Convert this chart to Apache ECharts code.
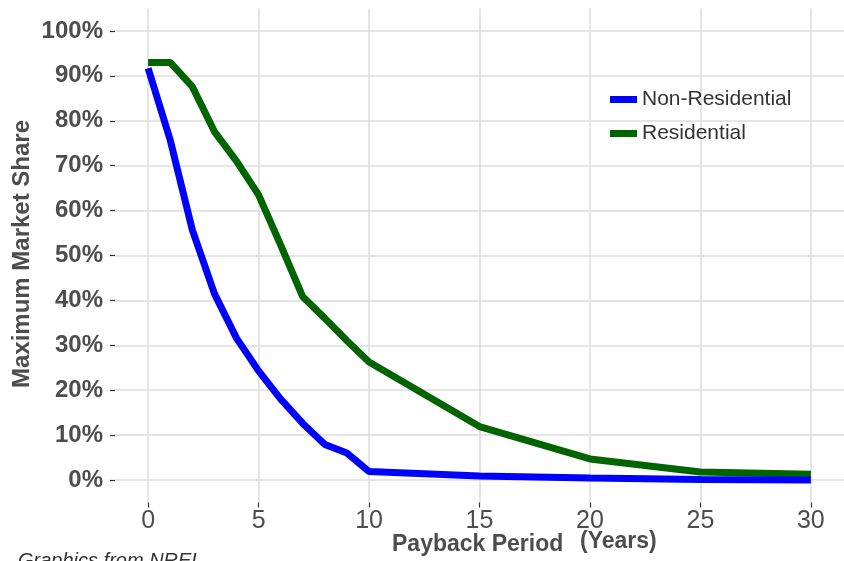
<!DOCTYPE html>
<html>
<head>
<meta charset="utf-8">
<script src="https://cdn.jsdelivr.net/npm/echarts@6/dist/echarts.min.js"></script>
<style>
html,body{margin:0;padding:0;background:#fff;}
#chart{width:844px;height:561px;}
</style>
</head>
<body>
<div id="chart"></div>
<script>
const years = [0, 1, 2, 3, 4, 5, 6, 7, 8, 9, 10, 15, 20, 25, 30];
const nonResidential = [91.7, 75.7, 55.7, 41.5, 31.6, 24.3, 18, 12.6, 7.9, 6, 1.9, 0.9, 0.45, 0.1, 0];
const residential = [93, 93, 87.6, 77.6, 71, 63.5, 52.3, 40.8, 36, 31, 26.3, 11.9, 4.7, 1.8, 1.3];
const xTicks = [0, 5, 10, 15, 20, 25, 30];
const yTicks = [0, 10, 20, 30, 40, 50, 60, 70, 80, 90, 100];
const seriesNames = ['Non-Residential', 'Residential'];

const pairs = (xs, ys) => xs.map((x, i) => [x, ys[i]]);
const chart = echarts.init(document.getElementById('chart'), null, {renderer: 'canvas'});
const gridColor = '#dcdcdc';
chart.setOption({
  animation: false,
  backgroundColor: '#ffffff',
  grid: {left: 115, right: 0, top: 8.5, bottom: 58.5, outerBoundsMode: 'none', containLabel: false},
  legend: {
    left: 605, top: 84, orient: 'vertical', icon: 'rect',
    itemWidth: 27, itemHeight: 7, itemGap: 13,
    textStyle: {fontFamily: 'Liberation Sans, Arial, sans-serif', fontSize: 21, color: '#333', padding: [0, 0, 0, 0], lineHeight: 21},
    data: seriesNames
  },
  xAxis: {
    type: 'value', min: -1.5, max: 31.5,
    axisLine: {show: false, onZero: false},
    axisTick: {show: true, length: 5, customValues: xTicks, lineStyle: {color: '#333', width: 1.2}},
    axisLabel: {customValues: xTicks, margin: 6, fontFamily: 'Liberation Sans, Arial, sans-serif', fontSize: 25, color: '#4d4d4d'},
    splitLine: {show: true, lineStyle: {color: gridColor, width: 1.5}}
  },
  yAxis: {
    type: 'value', min: -5, max: 105,
    axisLine: {show: false, onZero: false},
    axisTick: {show: true, length: 5, customValues: yTicks, lineStyle: {color: '#333', width: 1.2}},
    axisLabel: {customValues: yTicks, margin: 12, formatter: v => v + '%', fontFamily: 'Liberation Sans, Arial, sans-serif', fontWeight: 'bold', fontSize: 24, color: '#4d4d4d'},
    splitLine: {show: true, lineStyle: {color: gridColor, width: 1.5}}
  },
  series: [
    {name: seriesNames[0], type: 'line', data: pairs(years, nonResidential), showSymbol: false, symbol: 'none',
     lineStyle: {color: '#0000ff', width: 7}, itemStyle: {color: '#0000ff'}, z: 3},
    {name: seriesNames[1], type: 'line', data: pairs(years, residential), showSymbol: false, symbol: 'none',
     lineStyle: {color: '#006400', width: 7}, itemStyle: {color: '#006400'}, z: 2}
  ],
  graphic: [
    {type: 'text', left: 392, top: 533, style: {text: 'Payback Period', font: 'bold 23px "Liberation Sans", Arial, sans-serif', fill: '#4d4d4d'}},
    {type: 'text', left: 580, top: 530, style: {text: '(Years)', font: 'bold 23px "Liberation Sans", Arial, sans-serif', fill: '#4d4d4d'}},
    {type: 'text', x: 22, y: 254, rotation: Math.PI / 2, style: {text: 'Maximum Market Share', font: 'bold 24px "Liberation Sans", Arial, sans-serif', fill: '#4d4d4d', align: 'center', verticalAlign: 'middle'}},
    {type: 'text', left: 18, top: 551, style: {text: 'Graphics from NREL', font: 'italic 20px "Liberation Sans", Arial, sans-serif', fill: '#333'}}
  ]
});
</script>
</body>
</html>
